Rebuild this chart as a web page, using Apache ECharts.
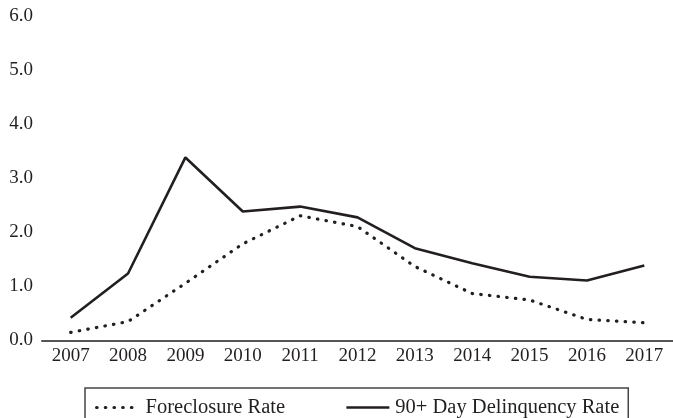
<!DOCTYPE html>
<html>
<head>
<meta charset="utf-8">
<script src="https://cdn.jsdelivr.net/npm/echarts@6/dist/echarts.min.js"></script>
<style>
html,body{margin:0;padding:0;background:#fff;}
#chart{width:673px;height:418px;}
</style>
</head>
<body>
<div id="chart"></div>
<script>
var years = ['2007','2008','2009','2010','2011','2012','2013','2014','2015','2016','2017'];
var foreclosureRate = [0.15, 0.35, 1.06, 1.79, 2.31, 2.11, 1.37, 0.87, 0.75, 0.39, 0.33];
var delinquencyRate = [0.42, 1.24, 3.39, 2.39, 2.48, 2.28, 1.71, 1.43, 1.18, 1.11, 1.39];
var seriesNames = ['Foreclosure Rate', '90+ Day Delinquency Rate'];
var yMin = 0, yMax = 6, yStep = 1;

var FONT = "'Liberation Serif', 'DejaVu Serif', serif";
var INK = '#231f20';
var dotStyle = {color: INK, width: 3.2, type: [0.5, 8.2], cap: 'round'};
var solidStyle = {color: INK, width: 2.6, type: 'solid'};

var chart = echarts.init(document.getElementById('chart'), null, {renderer: 'canvas'});
chart.setOption({
  animation: false,
  backgroundColor: '#ffffff',
  grid: {left: 42, right: -7, top: 16.5, bottom: 77.5, containLabel: false},
  xAxis: {
    type: 'category',
    data: years,
    boundaryGap: true,
    axisLine: {show: true, lineStyle: {color: '#555555', width: 2}},
    axisTick: {show: false},
    axisLabel: {color: INK, fontFamily: FONT, fontSize: 19, margin: 6}
  },
  yAxis: {
    type: 'value',
    min: yMin, max: yMax, interval: yStep,
    axisLine: {show: false},
    axisTick: {show: false},
    splitLine: {show: false},
    axisLabel: {
      color: INK, fontFamily: FONT, fontSize: 19, margin: 9,
      formatter: function (v) { return v.toFixed(1); }
    }
  },
  legend: {
    data: [
      {name: seriesNames[0], itemStyle: {opacity: 0}, lineStyle: {width: 3.2, type: [0.5, 8.2], cap: 'round', color: INK}},
      {name: seriesNames[1], itemStyle: {opacity: 0}, lineStyle: {width: 2.6, type: 'solid', color: INK}}
    ],
    left: 85, top: 388,
    orient: 'horizontal',
    padding: [9, 9, 10, 10],
    itemGap: 60,
    itemWidth: 43, itemHeight: 14,
    borderColor: '#444444', borderWidth: 1.5,
    backgroundColor: '#ffffff',
    itemStyle: {opacity: 0},
    textStyle: {color: INK, fontFamily: FONT, fontSize: 20.5, padding: [0,0,0,1]}
  },
  series: [
    {
      name: seriesNames[0],
      type: 'line',
      data: foreclosureRate,
      symbol: 'none',
      showSymbol: false,
      lineStyle: dotStyle,
      itemStyle: {color: INK},
      z: 3
    },
    {
      name: seriesNames[1],
      type: 'line',
      data: delinquencyRate,
      symbol: 'none',
      showSymbol: false,
      lineStyle: solidStyle,
      itemStyle: {color: INK},
      z: 2
    }
  ]
});
</script>
</body>
</html>
